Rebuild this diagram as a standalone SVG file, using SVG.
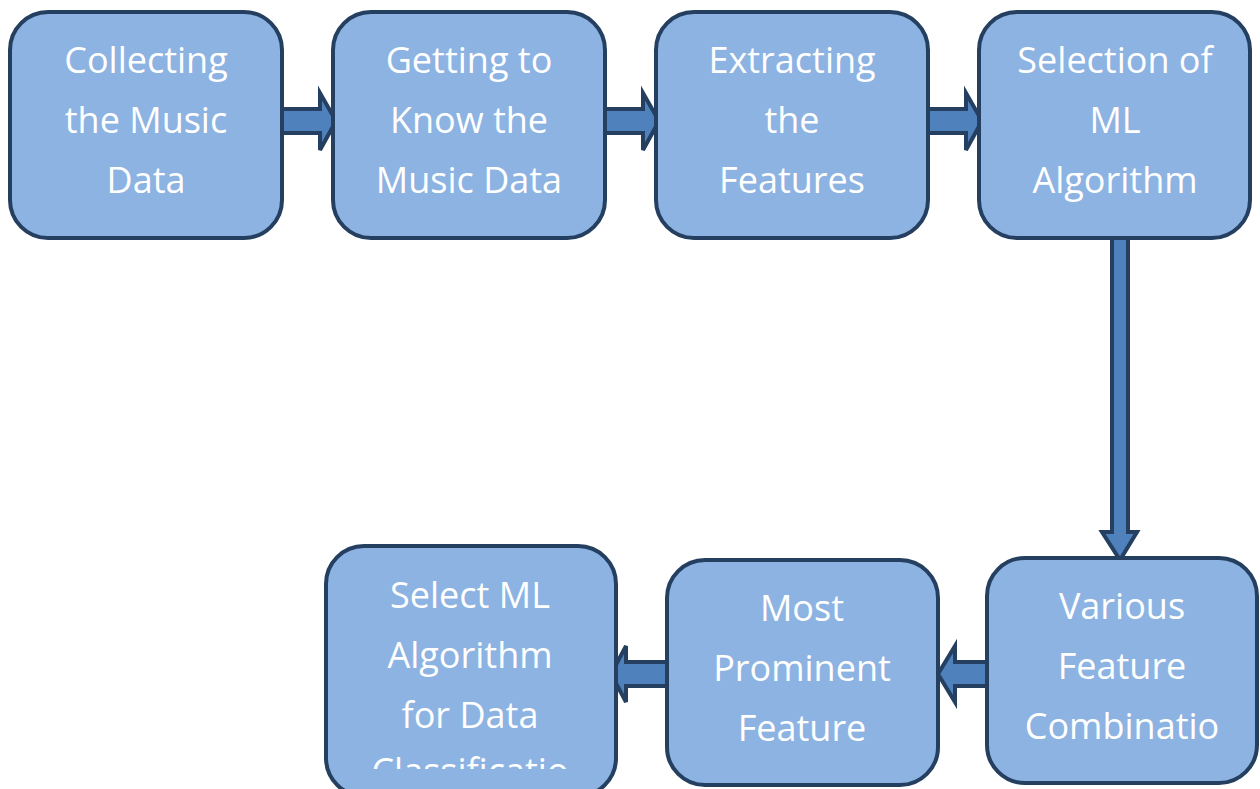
<svg xmlns="http://www.w3.org/2000/svg" width="1260" height="789" viewBox="0 0 1260 789">
<style>
.box{fill:#8DB3E2;stroke:#243F60;stroke-width:4}
.arr{fill:#4F81BD;stroke:#243F60;stroke-width:4;stroke-linejoin:miter}
.t{fill:#FFFFFF;font-family:"Open Sans","Liberation Sans",sans-serif;font-size:36px;text-anchor:middle}
</style>
<defs>
<clipPath id="c7"><rect x="326" y="540" width="290" height="229"/></clipPath>
</defs>
<rect width="1260" height="789" fill="#FFFFFF"/>
<g id="connectors">
<path class="arr" d="M282,109 H320 V93 L336,121 L320,150 V133 H282 Z"/>
<path class="arr" d="M605,109 H643 V93 L659,121 L643,150 V133 H605 Z"/>
<path class="arr" d="M928,109 H966 V93 L982,121 L966,150 V133 H928 Z"/>
<path class="arr" d="M1112,238 V532 H1102 L1120,560 L1137,532 H1128 V238 Z"/>
<path class="arr" d="M987,662 H955 V646 L938,674 L955,702 V686 H987 Z"/>
<path class="arr" d="M667,662 H626 V646 L611,674 L626,702 V686 H667 Z"/>
</g>
<g id="n1"><rect class="box" x="10" y="12" width="272" height="226" rx="38"/>
<text class="t" x="146" y="73">Collecting</text><text class="t" x="146" y="133">the Music</text><text class="t" x="146" y="193">Data</text></g>
<g id="n2"><rect class="box" x="333" y="12" width="272" height="226" rx="38"/>
<text class="t" x="469" y="73">Getting to</text><text class="t" x="469" y="133">Know the</text><text class="t" x="469" y="193">Music Data</text></g>
<g id="n3"><rect class="box" x="656" y="12" width="272" height="226" rx="38"/>
<text class="t" x="792" y="73">Extracting</text><text class="t" x="792" y="133">the</text><text class="t" x="792" y="193">Features</text></g>
<g id="n4"><rect class="box" x="979" y="12" width="271" height="226" rx="38"/>
<text class="t" x="1115" y="73">Selection of</text><text class="t" x="1115" y="133">ML</text><text class="t" x="1115" y="193">Algorithm</text></g>
<g id="n5"><rect class="box" x="987" y="558" width="270" height="225" rx="38"/>
<text class="t" x="1122" y="619">Various</text><text class="t" x="1122" y="679">Feature</text><text class="t" x="1122" y="739">Combinatio</text></g>
<g id="n6"><rect class="box" x="667" y="560" width="271" height="225" rx="38"/>
<text class="t" x="802" y="621">Most</text><text class="t" x="802" y="681">Prominent</text><text class="t" x="802" y="741">Feature</text></g>
<g id="n7"><rect class="box" x="326" y="546" width="290" height="250" rx="38"/>
<g clip-path="url(#c7)"><text class="t" x="470" y="608">Select ML</text><text class="t" x="470" y="668">Algorithm</text><text class="t" x="470" y="728">for Data</text><text class="t" x="470" y="784">Classificatio</text></g></g>
</svg>
